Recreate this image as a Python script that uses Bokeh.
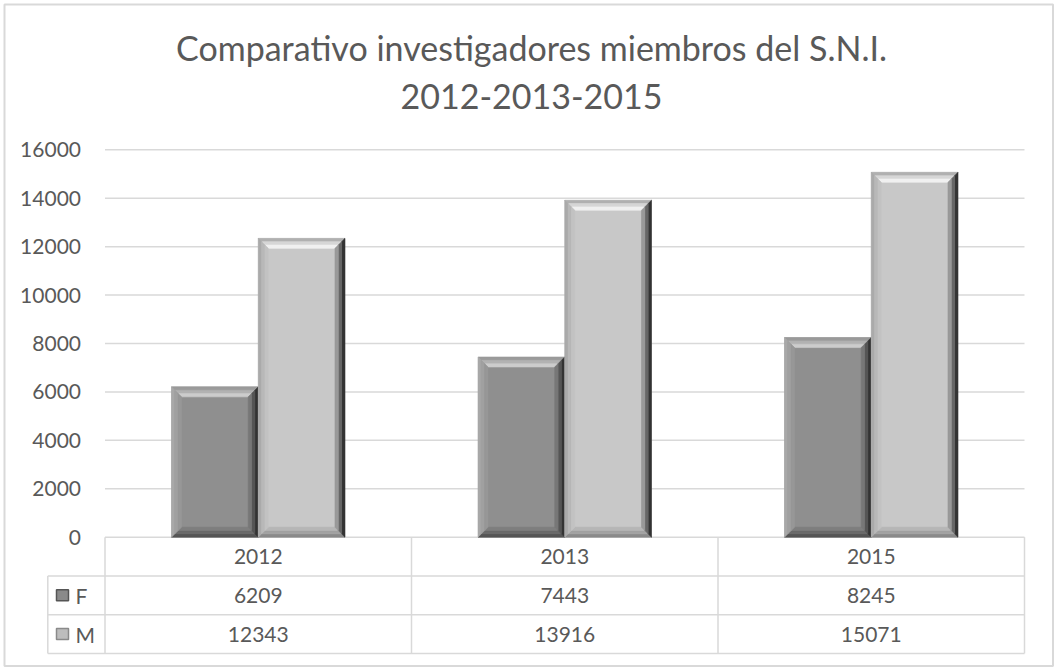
from bokeh.plotting import figure
from bokeh.models import Range1d, FixedTicker, ColumnDataSource
from bokeh.embed import file_html
from bokeh.resources import INLINE
from bokeh.core.properties import value

# ---------------- data ----------------
categories = ["2012", "2013", "2015"]
series_names = ["F", "M"]
f_values = [6209, 7443, 8245]
m_values = [12343, 13916, 15071]
y_ticks = [0, 2000, 4000, 6000, 8000, 10000, 12000, 14000, 16000]
title_lines = ["Comparativo investigadores miembros del S.N.I.", "2012-2013-2015"]

# ---------------- layout (page pixels) ----------------
W, H = 1059, 672
FONT = "Lato"
TXT = "#595959"
GRID = "#d9d9d9"

PX_X0 = 104.5        # x = 0
PX_X3 = 1024.0       # x = ncat
PX_YTOP = 149.3      # y = 16000
PX_Y0 = 536.7        # y = 0

ncat = len(categories)
sx = (PX_X3 - PX_X0) / ncat
ymax = y_ticks[-1]
sy = (PX_Y0 - PX_YTOP) / ymax
x_start = -PX_X0 / sx
x_end = ncat + (W - PX_X3) / sx
y_end = ymax + PX_YTOP / sy
y_start = -(H - PX_Y0) / sy

def dx_(px):   # page x -> data x
    return (px - PX_X0) / sx

def dy_(py):   # page y -> data y
    return (PX_Y0 - py) / sy

ROW = 1600.0              # table row height (data units)
x_lab = dx_(47.3)         # left edge of table label column
BW = 0.283                # bar width (category units)

p = figure(width=W, height=H,
           x_range=Range1d(x_start, x_end), y_range=Range1d(y_start, y_end),
           output_backend="svg", toolbar_location=None, x_axis_location=None,
           min_border_left=0, min_border_right=0,
           min_border_top=0, min_border_bottom=0,
           outline_line_color=None, background_fill_color="white",
           border_fill_color="white")
p.xgrid.visible = False
p.ygrid.visible = False

# chart area border
p.quad(left=[dx_(4)], right=[dx_(1052.5)], top=[dy_(4)], bottom=[dy_(665.5)],
       fill_color=None, line_color=GRID, line_width=2)

# horizontal gridlines across the plot area
p.segment(x0=[0] * len(y_ticks), x1=[ncat] * len(y_ticks), y0=y_ticks, y1=y_ticks,
          line_color=GRID, line_width=1.5)

# y axis drawn at x = 0
ax = p.yaxis[0]
ax.fixed_location = 0
ax.ticker = FixedTicker(ticks=y_ticks)
ax.axis_line_color = None
ax.major_tick_line_color = None
ax.minor_tick_line_color = None
ax.major_tick_in = 0
ax.major_tick_out = 0
ax.major_label_standoff = 24
ax.major_label_text_font = FONT
ax.major_label_text_font_size = "21px"
ax.major_label_text_color = TXT

# ---------------- title ----------------
p.text(x=[dx_(531)] * 2, y=[dy_(47), dy_(96)], text=title_lines,
       text_font=value(FONT), text_font_size="34px", text_color=TXT,
       text_align="center", text_baseline="middle")

# ---------------- bars with bevel ----------------
def bevel_polys(x0, x1, y0, y1, dx, dy, nb):
    out = {"top": [], "right": [], "bottom": [], "left": []}
    for k in range(nb):
        a, b = k / nb, (k + 1) / nb
        ax_, bx_ = a * dx, b * dx
        ay, by_ = a * dy, b * dy
        out["top"].append(([x0 + ax_, x1 - ax_, x1 - bx_, x0 + bx_],
                           [y1 - ay, y1 - ay, y1 - by_, y1 - by_]))
        out["bottom"].append(([x0 + ax_, x1 - ax_, x1 - bx_, x0 + bx_],
                              [y0 + ay, y0 + ay, y0 + by_, y0 + by_]))
        out["left"].append(([x0 + ax_, x0 + ax_, x0 + bx_, x0 + bx_],
                            [y1 - ay, y0 + ay, y0 + by_, y1 - by_]))
        out["right"].append(([x1 - ax_, x1 - ax_, x1 - bx_, x1 - bx_],
                             [y1 - ay, y0 + ay, y0 + by_, y1 - by_]))
    return out

styles = {
    "F": {"face": "#8f8f8f",
          "top": ["#9a9a9a", "#b2b2b2", "#cccccc"],
          "left": ["#a8a8a8", "#a0a0a0", "#979797"],
          "right": ["#333333", "#555555", "#777777"],
          "bottom": ["#555555", "#6a6a6a", "#7e7e7e"]},
    "M": {"face": "#c8c8c8",
          "top": ["#b0b0b0", "#d6d6d6", "#f0f0f0"],
          "left": ["#aaaaaa", "#b8b8b8", "#c2c2c2"],
          "right": ["#333333", "#666666", "#999999"],
          "bottom": ["#8a8a8a", "#a2a2a2", "#b6b6b6"]},
}

dxb = 10 / sx
dyb = 10 / sy
centers = [i + 0.5 for i in range(ncat)]
for name, vals, off in (("F", f_values, -BW), ("M", m_values, 0.0)):
    st = styles[name]
    lefts = [c + off for c in centers]
    rights = [l + BW for l in lefts]
    src = ColumnDataSource(dict(left=lefts, right=rights, top=vals, bottom=[0] * ncat))
    p.quad(left="left", right="right", top="top", bottom="bottom", source=src,
           fill_color=st["face"], line_color=None)
    xs, ys, cs = [], [], []
    for l, r, v in zip(lefts, rights, vals):
        polys = bevel_polys(l, r, 0, v, dxb, dyb, 3)
        for side in ("top", "bottom", "left", "right"):
            for k, (px, py) in enumerate(polys[side]):
                xs.append(px); ys.append(py); cs.append(st[side][k])
    p.patches(xs=xs, ys=ys, fill_color=cs, line_color=cs, line_width=0.6)

# ---------------- data table ----------------
hx0, hx1, hy = [], [], []
for k in (1, 2, 3):
    hx0.append(x_lab); hx1.append(ncat); hy.append(-k * ROW)
p.segment(x0=hx0, y0=hy, x1=hx1, y1=hy, line_color=GRID, line_width=1.5)
vx = [x_lab] + list(range(ncat + 1))
vy0 = [-ROW] + [0] * (ncat + 1)
vy1 = [-3 * ROW] * (ncat + 2)
p.segment(x0=vx, y0=vy0, x1=vx, y1=vy1, line_color=GRID, line_width=1.5)

tkw = dict(text_font=value(FONT), text_font_size="21px", text_color=TXT,
           text_align="center", text_baseline="middle")
p.text(x=centers, y=[-0.5 * ROW] * ncat, text=categories, **tkw)
p.text(x=centers, y=[-1.5 * ROW] * ncat, text=[str(v) for v in f_values], **tkw)
p.text(x=centers, y=[-2.5 * ROW] * ncat, text=[str(v) for v in m_values], **tkw)

row_y = [-1.5 * ROW, -2.5 * ROW]
p.rect(x=[dx_(62)] * 2, y=row_y, width=12, height=11, width_units="screen",
       height_units="screen", fill_color=["#8a8a8a", "#bdbdbd"],
       line_color=["#555555", "#8a8a8a"], line_width=1.5)
p.text(x=[dx_(75)] * 2, y=row_y, text=series_names, text_font=value(FONT),
       text_font_size="21px", text_color=TXT, text_align="left",
       text_baseline="middle")

open("out.html", "w").write(file_html(p, INLINE))
